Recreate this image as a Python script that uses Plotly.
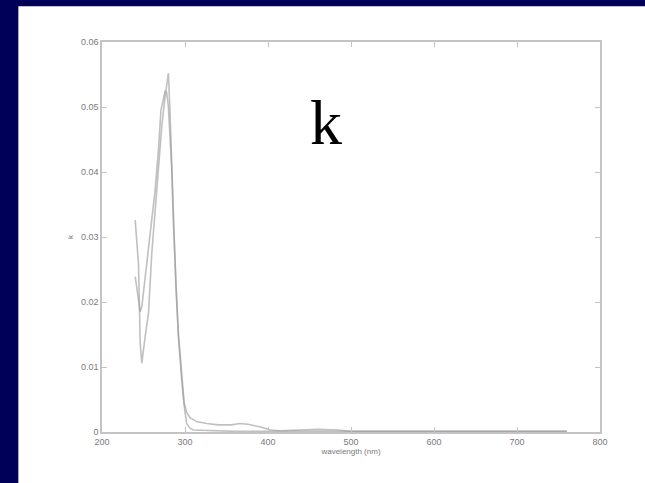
import plotly.graph_objects as go

# Spectrum 1 (higher start, deeper minimum, higher peak)
wl_a = [240, 244, 246, 248, 252, 256, 260, 264, 268, 272, 276, 280, 282, 284, 286, 289, 292, 296, 299, 302, 306, 314, 326, 340, 356, 366, 376, 390, 403, 415, 430, 445, 460, 483, 500, 540, 600, 650, 700, 760]
k_a = [0.0326, 0.0258, 0.0137, 0.0106, 0.0147, 0.0183, 0.0275, 0.0342, 0.0418, 0.0470, 0.0516, 0.0552, 0.0490, 0.0408, 0.0326, 0.0224, 0.0152, 0.0085, 0.0045, 0.0030, 0.0022, 0.0016, 0.0013, 0.0011, 0.0011, 0.0013, 0.0012, 0.0008, 0.0003, 0.0002, 0.0003, 0.0004, 0.0004, 0.0003, 0.0001, 0.0001, 0.0001, 0.0001, 0.0001, 0.0001]

# Spectrum 2
wl_b = [240, 242, 246, 248, 252, 256, 260, 264, 268, 271, 276, 278, 280, 282, 284, 286, 289, 292, 296, 299, 302, 306, 310, 330, 360, 400, 500, 600, 700, 760]
k_b = [0.0239, 0.0218, 0.0185, 0.0193, 0.0239, 0.0280, 0.0321, 0.0372, 0.0434, 0.0495, 0.0524, 0.0522, 0.0500, 0.0460, 0.0405, 0.0322, 0.0220, 0.0148, 0.0080, 0.0040, 0.0013, 0.0006, 0.0003, 0.0002, 0.0001, 0.0001, 0.0001, 0.0001, 0.0001, 0.0001]

x_ticks = [200, 300, 400, 500, 600, 700, 800]
y_ticks = [0, 0.01, 0.02, 0.03, 0.04, 0.05, 0.06]
y_tick_text = ["0", "0.01", "0.02", "0.03", "0.04", "0.05", "0.06"]

W, H = 645, 483
L, R, T, B = 101.7, 600.0, 41.7, 431.7
pw, ph = R - L, B - T

def px(xp):
    return (xp - L) / pw

def py(yp):
    return (B - yp) / ph

line_col = "rgba(150,150,150,0.6)"

fig = go.Figure()
fig.add_trace(go.Scatter(x=wl_a, y=k_a, mode="lines", line=dict(color=line_col, width=1.6), showlegend=False))
fig.add_trace(go.Scatter(x=wl_b, y=k_b, mode="lines", line=dict(color=line_col, width=1.6), showlegend=False))

axis_common = dict(
    showline=True, linecolor="#c4c4c4", linewidth=1.5, mirror="ticks",
    ticks="inside", ticklen=5, tickcolor="#c4c4c4", tickwidth=1,
    showgrid=False, zeroline=False,
    tickfont=dict(family="Liberation Sans, Arial", size=9, color="#7a7a7a"),
)

fig.update_layout(
    width=W, height=H,
    margin=dict(l=L, r=W - R, t=T, b=H - B, pad=0),
    paper_bgcolor="rgb(0,0,88)",
    plot_bgcolor="white",
    xaxis=dict(range=[200, 800], tickvals=x_ticks, ticktext=[str(v) for v in x_ticks],
               title=dict(text="wavelength (nm)", font=dict(family="Liberation Sans, Arial", size=8, color="#7a7a7a"), standoff=2),
               **axis_common),
    yaxis=dict(range=[0, 0.06], tickvals=y_ticks, ticktext=y_tick_text,
               title=dict(text="k", font=dict(family="Liberation Sans, Arial", size=8, color="#7a7a7a"), standoff=6),
               **axis_common),
    shapes=[dict(type="rect", xref="paper", yref="paper", x0=px(18), x1=px(W + 20), y0=py(H + 20), y1=py(6),
                 fillcolor="white", line=dict(width=0), layer="below")],
    annotations=[dict(text="k", xref="paper", yref="paper", x=px(326), y=py(122), xanchor="center", yanchor="middle",
                      showarrow=False, font=dict(family="Liberation Serif, Times New Roman", size=64, color="black"))],
)

fig.write_html("out.html")
